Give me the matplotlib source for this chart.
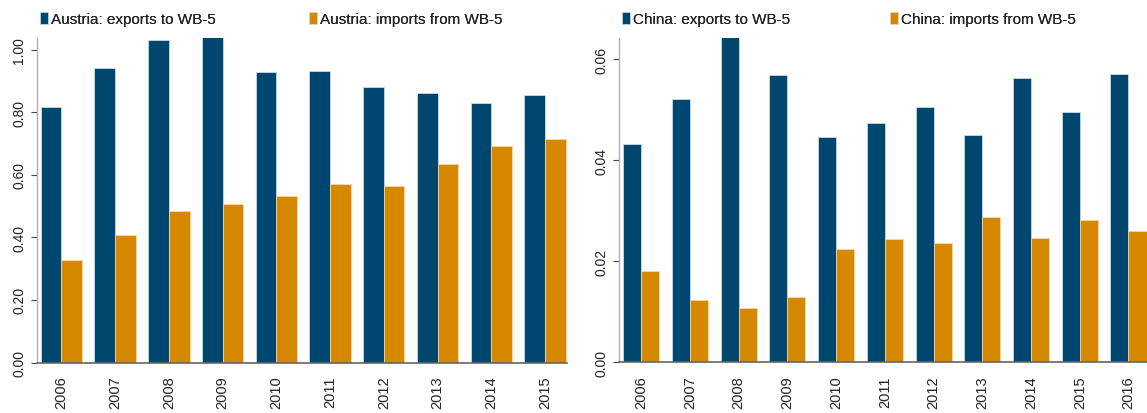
import matplotlib
matplotlib.use("Agg")
import matplotlib.pyplot as plt
import numpy as np
from matplotlib.patches import Patch
from matplotlib.ticker import FormatStrFormatter

plt.rcParams['font.family'] = ['Liberation Sans', 'DejaVu Sans']

# Data
years_at = ['2006', '2007', '2008', '2009', '2010', '2011', '2012', '2013', '2014', '2015']
at_exports = [0.815, 0.941, 1.030, 1.040, 0.929, 0.931, 0.879, 0.861, 0.829, 0.854]
at_imports = [0.327, 0.407, 0.485, 0.506, 0.531, 0.569, 0.564, 0.634, 0.693, 0.714]

years_cn = ['2006', '2007', '2008', '2009', '2010', '2011', '2012', '2013', '2014', '2015', '2016']
cn_exports = [0.0432, 0.0522, 0.0660, 0.0570, 0.0447, 0.0475, 0.0506, 0.0451, 0.0564, 0.0496, 0.0572]
cn_imports = [0.0180, 0.0124, 0.0107, 0.0130, 0.0225, 0.0245, 0.0236, 0.0287, 0.0246, 0.0281, 0.0260]

blue = '#00476f'
orange = '#d68800'

W, H = 1147, 414
fig = plt.figure(figsize=(W / 100, H / 100), dpi=100)

ax1 = fig.add_axes([36.7 / W, 50.5 / H, (567 - 36.7) / W, 324.2 / H])
ax2 = fig.add_axes([619.3 / W, 50.7 / H, (1147 - 619.3) / W, 324 / H])


def draw_panel(ax, years, exp, imp, width, ylim, yticks, xlim):
    x = np.arange(len(years))
    ax.bar(x - width / 2, exp, width, color=blue, edgecolor='#d8e6ee', linewidth=0.5)
    ax.bar(x + width / 2, imp, width, color=orange, edgecolor='#f3dcb0', linewidth=0.5)
    ax.set_xlim(*xlim)
    ax.set_ylim(*ylim)
    ax.set_xticks(x)
    ax.set_xticklabels(years, rotation=90, fontsize=10.5, color='#222222')
    ax.set_yticks(yticks)
    ax.yaxis.set_major_formatter(FormatStrFormatter('%.2f'))
    ax.tick_params(axis='x', length=0, pad=9.4)
    ax.tick_params(axis='y', length=4, width=0.8, color='#444444', pad=3.5,
                   labelsize=10, labelcolor='#222222', labelrotation=90)
    for lab in ax.get_yticklabels():
        lab.set_va('center')
    ax.spines['top'].set_visible(False)
    ax.spines['right'].set_visible(False)
    ax.spines['left'].set_color('#b0b0b0')
    ax.spines['left'].set_linewidth(1.0)
    ax.spines['bottom'].set_color('#666666')
    ax.spines['bottom'].set_linewidth(1.2)


draw_panel(ax1, years_at, at_exports, at_imports, 0.385, (0, 1.036),
           [0.0, 0.2, 0.4, 0.6, 0.8, 1.0], (-0.46, 9.41))
draw_panel(ax2, years_cn, cn_exports, cn_imports, 0.37, (0, 0.0642),
           [0.00, 0.02, 0.04, 0.06], (-0.45, 10.38))


def legend_item(label, color, xpix):
    leg = fig.legend(handles=[Patch(facecolor=color, edgecolor='#d8e6ee', linewidth=0.5)],
                     labels=[label], loc='center left',
                     bbox_to_anchor=(xpix / W, 1 - 20 / H),
                     bbox_transform=fig.transFigure, frameon=False, fontsize=11,
                     handlelength=0.54, handleheight=0.88, handletextpad=0.16,
                     borderpad=0, borderaxespad=0)
    for t in leg.get_texts():
        t.set_color('#222222')
    fig.add_artist(leg)


legend_item('Austria: exports to WB-5', blue, 40)
legend_item('Austria: imports from WB-5', orange, 309)
legend_item('China: exports to WB-5', blue, 622)
legend_item('China: imports from WB-5', orange, 890)

fig.savefig('out.png', dpi=100)
